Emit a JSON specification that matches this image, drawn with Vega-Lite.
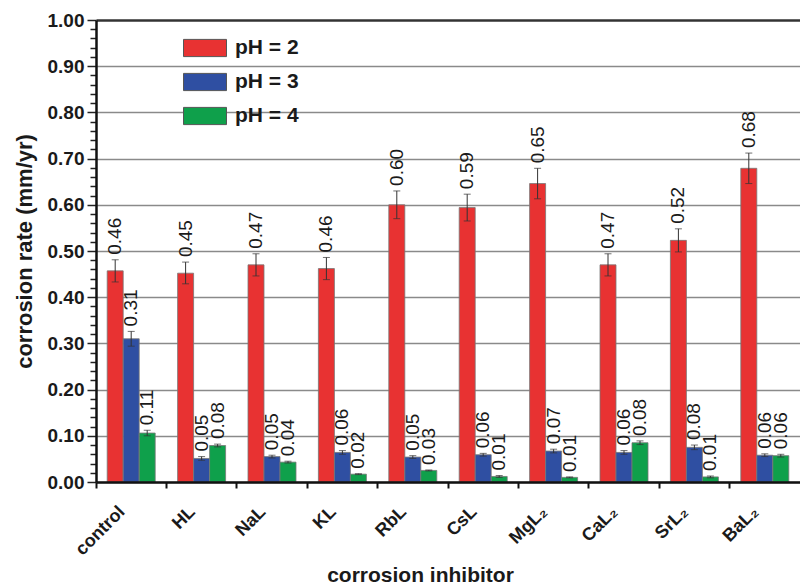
{
  "$schema": "https://vega.github.io/schema/vega-lite/v6.json",
  "width": 704,
  "height": 462,
  "autosize": {"type": "none"},
  "padding": {"left": 96, "top": 20, "right": 0, "bottom": 104},
  "background": "white",
  "config": {"view": {"stroke": null}, "font": "Liberation Sans"},
  "data": {"values": [
    {"inhibitor": "control", "pH": "pH = 2", "rate": 0.457, "lo": 0.433, "hi": 0.481, "label": "0.46"},
    {"inhibitor": "control", "pH": "pH = 3", "rate": 0.310, "lo": 0.294, "hi": 0.326, "label": "0.31"},
    {"inhibitor": "control", "pH": "pH = 4", "rate": 0.106, "lo": 0.100, "hi": 0.112, "label": "0.11"},
    {"inhibitor": "HL", "pH": "pH = 2", "rate": 0.452, "lo": 0.429, "hi": 0.476, "label": "0.45"},
    {"inhibitor": "HL", "pH": "pH = 3", "rate": 0.051, "lo": 0.047, "hi": 0.055, "label": "0.05"},
    {"inhibitor": "HL", "pH": "pH = 4", "rate": 0.079, "lo": 0.076, "hi": 0.082, "label": "0.08"},
    {"inhibitor": "NaL", "pH": "pH = 2", "rate": 0.470, "lo": 0.446, "hi": 0.494, "label": "0.47"},
    {"inhibitor": "NaL", "pH": "pH = 3", "rate": 0.055, "lo": 0.052, "hi": 0.058, "label": "0.05"},
    {"inhibitor": "NaL", "pH": "pH = 4", "rate": 0.043, "lo": 0.041, "hi": 0.045, "label": "0.04"},
    {"inhibitor": "KL", "pH": "pH = 2", "rate": 0.462, "lo": 0.438, "hi": 0.486, "label": "0.46"},
    {"inhibitor": "KL", "pH": "pH = 3", "rate": 0.064, "lo": 0.060, "hi": 0.068, "label": "0.06"},
    {"inhibitor": "KL", "pH": "pH = 4", "rate": 0.017, "lo": 0.016, "hi": 0.018, "label": "0.02"},
    {"inhibitor": "RbL", "pH": "pH = 2", "rate": 0.600, "lo": 0.570, "hi": 0.630, "label": "0.60"},
    {"inhibitor": "RbL", "pH": "pH = 3", "rate": 0.054, "lo": 0.051, "hi": 0.057, "label": "0.05"},
    {"inhibitor": "RbL", "pH": "pH = 4", "rate": 0.025, "lo": 0.024, "hi": 0.026, "label": "0.03"},
    {"inhibitor": "CsL", "pH": "pH = 2", "rate": 0.594, "lo": 0.565, "hi": 0.623, "label": "0.59"},
    {"inhibitor": "CsL", "pH": "pH = 3", "rate": 0.059, "lo": 0.056, "hi": 0.062, "label": "0.06"},
    {"inhibitor": "CsL", "pH": "pH = 4", "rate": 0.012, "lo": 0.010, "hi": 0.014, "label": "0.01"},
    {"inhibitor": "MgL₂", "pH": "pH = 2", "rate": 0.646, "lo": 0.613, "hi": 0.679, "label": "0.65"},
    {"inhibitor": "MgL₂", "pH": "pH = 3", "rate": 0.067, "lo": 0.063, "hi": 0.071, "label": "0.07"},
    {"inhibitor": "MgL₂", "pH": "pH = 4", "rate": 0.010, "lo": 0.009, "hi": 0.011, "label": "0.01"},
    {"inhibitor": "CaL₂", "pH": "pH = 2", "rate": 0.470, "lo": 0.446, "hi": 0.494, "label": "0.47"},
    {"inhibitor": "CaL₂", "pH": "pH = 3", "rate": 0.064, "lo": 0.060, "hi": 0.068, "label": "0.06"},
    {"inhibitor": "CaL₂", "pH": "pH = 4", "rate": 0.085, "lo": 0.081, "hi": 0.089, "label": "0.08"},
    {"inhibitor": "SrL₂", "pH": "pH = 2", "rate": 0.523, "lo": 0.498, "hi": 0.548, "label": "0.52"},
    {"inhibitor": "SrL₂", "pH": "pH = 3", "rate": 0.075, "lo": 0.070, "hi": 0.080, "label": "0.08"},
    {"inhibitor": "SrL₂", "pH": "pH = 4", "rate": 0.011, "lo": 0.009, "hi": 0.013, "label": "0.01"},
    {"inhibitor": "BaL₂", "pH": "pH = 2", "rate": 0.679, "lo": 0.646, "hi": 0.712, "label": "0.68"},
    {"inhibitor": "BaL₂", "pH": "pH = 3", "rate": 0.058, "lo": 0.055, "hi": 0.061, "label": "0.06"},
    {"inhibitor": "BaL₂", "pH": "pH = 4", "rate": 0.057, "lo": 0.054, "hi": 0.060, "label": "0.06"}
  ]},
  "encoding": {
    "x": {
      "field": "inhibitor", "type": "nominal",
      "sort": ["control", "HL", "NaL", "KL", "RbL", "CsL", "MgL₂", "CaL₂", "SrL₂", "BaL₂"],
      "scale": {"paddingInner": 0, "paddingOuter": 0},
      "axis": {
        "title": "corrosion inhibitor",
        "bandPosition": 0,
        "labelAngle": -45, "labelAlign": "right", "labelBaseline": "middle",
        "labelOffset": -9, "labelPadding": 21,
        "labelFontSize": 18, "labelFontWeight": "bold", "labelColor": "#1a1a1a",
        "tickSize": 6, "tickWidth": 2, "tickColor": "#111",
        "domainColor": "#111", "domainWidth": 2.5,
        "titleFontSize": 21, "titleFontWeight": "bold", "titleColor": "#1a1a1a",
        "titleX": 324, "titleY": 99, "titleBaseline": "alphabetic",
        "zindex": 1
      }
    },
    "xOffset": {"field": "pH", "type": "nominal", "scale": {"paddingInner": 0, "paddingOuter": 0.7}},
    "y": {
      "field": "rate", "type": "quantitative",
      "scale": {"domain": [0, 1], "nice": false},
      "axis": {
        "title": "corrosion rate (mm/yr)",
        "values": [0,0.02,0.04,0.06,0.08,0.1,0.12,0.14,0.16,0.18,0.2,0.22,0.24,0.26,0.28,0.3,0.32,0.34,0.36,0.38,0.4,0.42,0.44,0.46,0.48,0.5,0.52,0.54,0.56,0.58,0.6,0.62,0.64,0.66,0.68,0.7,0.72,0.74,0.76,0.78,0.8,0.82,0.84,0.86,0.88,0.9,0.92,0.94,0.96,0.98,1],
        "labelExpr": "abs(datum.value*10 - round(datum.value*10)) < 0.001 ? format(datum.value, '.2f') : ''",
        "labelOverlap": false, "labelBound": false,
        "labelFontSize": 19, "labelFontWeight": "bold", "labelColor": "#1a1a1a", "labelPadding": 3,
        "tickSize": {"condition": {"test": "abs(datum.value*10 - round(datum.value*10)) < 0.001", "value": 9}, "value": 6},
        "tickColor": "#222", "tickWidth": 1.5,
        "domainColor": "#111", "domainWidth": 2.5,
        "grid": true,
        "gridColor": {"condition": {"test": "datum.value > 0.999", "value": "#333"}, "value": "#8a8a8a"},
        "gridWidth": {"condition": {"test": "datum.value > 0.999", "value": 2.5}, "value": 1.3},
        "gridOpacity": {"condition": {"test": "abs(datum.value*10 - round(datum.value*10)) < 0.001", "value": 1}, "value": 0},
        "titleFontSize": 22, "titleFontWeight": "bold", "titleColor": "#1a1a1a", "titlePadding": 11
      }
    }
  },
  "layer": [
    {
      "mark": {"type": "bar", "stroke": "#777", "strokeWidth": 0.8},
      "encoding": {
        "color": {
          "field": "pH", "type": "nominal",
          "scale": {"domain": ["pH = 2", "pH = 3", "pH = 4"], "range": ["#E83232", "#2F4FA2", "#0FA04B"]},
          "legend": {
            "orient": "none", "legendX": 87, "legendY": 6, "title": null,
            "padding": 0, "rowPadding": 1,
            "symbolType": "M-1,-0.4H1V0.4H-1Z", "symbolSize": 1849,
            "symbolStrokeColor": "#555", "symbolStrokeWidth": 1, "symbolOpacity": 1,
            "labelFontSize": 21, "labelFontWeight": "bold", "labelColor": "#1a1a1a", "labelOffset": 8
          }
        }
      }
    },
    {
      "mark": {"type": "rule", "color": "#333", "strokeWidth": 1},
      "encoding": {
        "y": {"field": "lo", "type": "quantitative"},
        "y2": {"field": "hi"}
      }
    },
    {
      "mark": {"type": "tick", "color": "#333", "thickness": 1, "size": 7, "orient": "horizontal"},
      "encoding": {"y": {"field": "hi", "type": "quantitative"}}
    },
    {
      "mark": {"type": "tick", "color": "#333", "thickness": 1, "size": 7, "orient": "horizontal"},
      "encoding": {"y": {"field": "lo", "type": "quantitative"}}
    },
    {
      "mark": {"type": "text", "angle": 270, "align": "left", "baseline": "middle", "dx": 5, "fontSize": 19, "color": "#1a1a1a"},
      "encoding": {
        "y": {"field": "hi", "type": "quantitative"},
        "text": {"field": "label"}
      }
    }
  ]
}
